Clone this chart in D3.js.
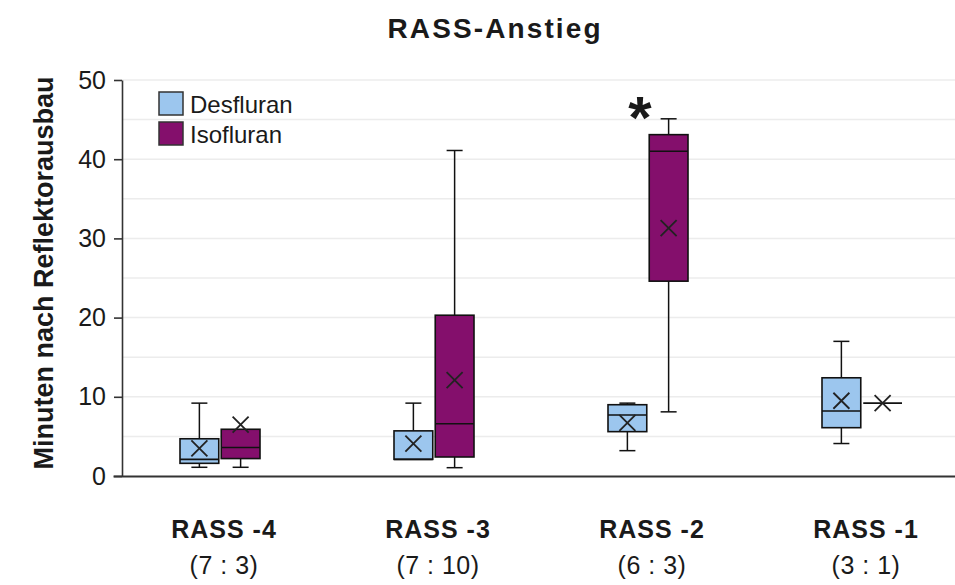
<!DOCTYPE html>
<html>
  <head>
    <meta charset="utf-8">
    <title>RASS-Anstieg</title>
    <script src="https://cdn.jsdelivr.net/npm/d3@7"></script>
    <style>
      body { margin: 0; background: #fff; }
      text { font-family: "Liberation Sans", Arial, sans-serif; fill: #1a1a1a; }
    </style>
  </head>
  <body>
    <svg id="chart" width="955" height="585"></svg>
    <script>
      // data
      const categories = ["RASS -4", "RASS -3", "RASS -2", "RASS -1"];
      const groupSizes = ["(7 : 3)", "(7 : 10)", "(6 : 3)", "(3 : 1)"];
      const series = ["Desfluran", "Isofluran"];
      const colors = ["#9cc6ee", "#840f6c"];

      // [min, q1, median, q3, max, mean] per category
      const desfluran = [
        [1.1, 1.6, 2.1, 4.7, 9.2, 3.5],
        [2.1, 2.1, 2.1, 5.7, 9.2, 4.1],
        [3.2, 5.6, 7.7, 9.0, 9.2, 6.7],
        [4.1, 6.1, 8.2, 12.4, 17.0, 9.5]
      ];
      const isofluran = [
        [1.1, 2.2, 3.6, 5.9, 5.9, 6.5],
        [1.05, 2.4, 6.6, 20.3, 41.1, 12.1],
        [8.1, 24.6, 41.0, 43.1, 45.1, 31.3],
        [9.2, 9.2, 9.2, 9.2, 9.2, 9.2]
      ];
      const yTicks = [0, 10, 20, 30, 40, 50];
      const gridValues = d3.range(5, 51, 5);
      const starCategory = "RASS -2";
      const starValue = 47;

      const svg = d3.select("#chart");

      const x = d3.scaleBand().domain(categories).range([113, 969]);
      const inner = d3.scaleBand().domain(series).range([-40, 40]).paddingInner(0.06);
      const y = d3.scaleLinear().domain([0, 50]).range([476, 80]);
      const axisX = 122;

      // grid
      svg.append("g")
        .selectAll("line")
        .data(gridValues)
        .enter()
        .append("line")
        .attr("x1", axisX)
        .attr("x2", 955)
        .attr("y1", d => y(d))
        .attr("y2", d => y(d))
        .attr("stroke", "#ececec")
        .attr("stroke-width", 1.5);

      // y axis
      const yAxis = svg.append("g")
        .attr("transform", `translate(${axisX},0)`)
        .call(d3.axisLeft(y).tickValues(yTicks).tickSize(8).tickSizeOuter(0).tickPadding(8));
      yAxis.select(".domain").attr("stroke", "#333").attr("stroke-width", 1.6);
      yAxis.selectAll(".tick line").attr("stroke", "#333").attr("stroke-width", 1.6);
      yAxis.selectAll(".tick text")
        .attr("font-size", 25)
        .attr("font-family", "Liberation Sans, Arial, sans-serif")
        .attr("fill", "#222");

      // x axis baseline
      const xAxis = svg.append("g")
        .attr("transform", `translate(0,${y(0)})`)
        .call(d3.axisBottom(x).tickSize(0).tickFormat(""));
      xAxis.select(".domain").attr("stroke", "#333").attr("stroke-width", 2);

      // category labels
      const labels = svg.append("g");
      labels.selectAll(".cat")
        .data(categories)
        .enter()
        .append("text")
        .attr("x", d => x(d) + x.bandwidth() / 2 + 4)
        .attr("y", 538)
        .attr("text-anchor", "middle")
        .attr("font-size", 25)
        .attr("font-weight", "bold")
        .attr("letter-spacing", 1)
        .text(d => d);
      labels.selectAll(".n")
        .data(groupSizes)
        .enter()
        .append("text")
        .attr("x", (d, i) => x(categories[i]) + x.bandwidth() / 2 + 4)
        .attr("y", 574)
        .attr("text-anchor", "middle")
        .attr("font-size", 25)
        .attr("letter-spacing", 0.5)
        .text(d => d);

      // boxes
      const boxData = [];
      [desfluran, isofluran].forEach((rows, s) => {
        rows.forEach((r, i) => {
          boxData.push({
            cat: categories[i], s: series[s], color: colors[s],
            min: r[0], q1: r[1], med: r[2], q3: r[3], max: r[4], mean: r[5]
          });
        });
      });

      const bw = inner.bandwidth();
      const boxes = svg.append("g")
        .selectAll("g")
        .data(boxData)
        .enter()
        .append("g")
        .attr("transform", d => `translate(${x(d.cat) + x.bandwidth() / 2 + inner(d.s)},0)`);

      // whiskers
      boxes.filter(d => d.max > d.q3)
        .append("line")
        .attr("x1", bw / 2).attr("x2", bw / 2)
        .attr("y1", d => y(d.max)).attr("y2", d => y(d.q3))
        .attr("stroke", "#111").attr("stroke-width", 1.5);
      boxes.filter(d => d.max > d.q3)
        .append("line")
        .attr("x1", bw / 2 - 8).attr("x2", bw / 2 + 8)
        .attr("y1", d => y(d.max)).attr("y2", d => y(d.max))
        .attr("stroke", "#111").attr("stroke-width", 1.5);
      boxes.filter(d => d.min < d.q1)
        .append("line")
        .attr("x1", bw / 2).attr("x2", bw / 2)
        .attr("y1", d => y(d.q1)).attr("y2", d => y(d.min))
        .attr("stroke", "#111").attr("stroke-width", 1.5);
      boxes.filter(d => d.min < d.q1)
        .append("line")
        .attr("x1", bw / 2 - 8).attr("x2", bw / 2 + 8)
        .attr("y1", d => y(d.min)).attr("y2", d => y(d.min))
        .attr("stroke", "#111").attr("stroke-width", 1.5);

      boxes.append("rect")
        .attr("x", 0)
        .attr("width", bw)
        .attr("y", d => y(d.q3))
        .attr("height", d => y(d.q1) - y(d.q3))
        .attr("fill", d => d.color)
        .attr("stroke", "#111")
        .attr("stroke-width", 1.6);

      boxes.append("line")
        .attr("x1", 0).attr("x2", bw)
        .attr("y1", d => y(d.med)).attr("y2", d => y(d.med))
        .attr("stroke", "#111").attr("stroke-width", 1.6);

      // mean markers
      boxes.append("path")
        .attr("d", d => {
          const cx = bw / 2, cy = y(d.mean), r = 8;
          return `M${cx - r},${cy - r}L${cx + r},${cy + r}M${cx - r},${cy + r}L${cx + r},${cy - r}`;
        })
        .attr("stroke", "#222")
        .attr("stroke-width", 1.8)
        .attr("fill", "none");

      // significance mark
      svg.append("text")
        .attr("x", x(starCategory) + x.bandwidth() / 2 - 8)
        .attr("y", y(starValue) + 34)
        .attr("text-anchor", "middle")
        .attr("font-size", 60)
        .attr("font-weight", "bold")
        .text("*");

      // legend
      const legend = svg.append("g").attr("transform", "translate(159,92)");
      const items = legend.selectAll("g")
        .data(series)
        .enter()
        .append("g")
        .attr("transform", (d, i) => `translate(0,${i * 30})`);
      items.append("rect")
        .attr("width", 24).attr("height", 23)
        .attr("fill", (d, i) => colors[i])
        .attr("stroke", "#333").attr("stroke-width", 1.5);
      items.append("text")
        .attr("x", 31).attr("y", 21)
        .attr("font-size", 24)
        .text(d => d);

      // titles
      svg.append("text")
        .attr("x", 494)
        .attr("y", 38)
        .attr("text-anchor", "middle")
        .attr("font-size", 28)
        .attr("font-weight", "bold")
        .attr("textLength", 213)
        .attr("lengthAdjust", "spacing")
        .text("RASS-Anstieg");

      svg.append("text")
        .attr("transform", "translate(53,273) rotate(-90)")
        .attr("text-anchor", "middle")
        .attr("font-size", 27)
        .attr("font-weight", "bold")
        .text("Minuten nach Reflektorausbau");
    </script>
  </body>
</html>
